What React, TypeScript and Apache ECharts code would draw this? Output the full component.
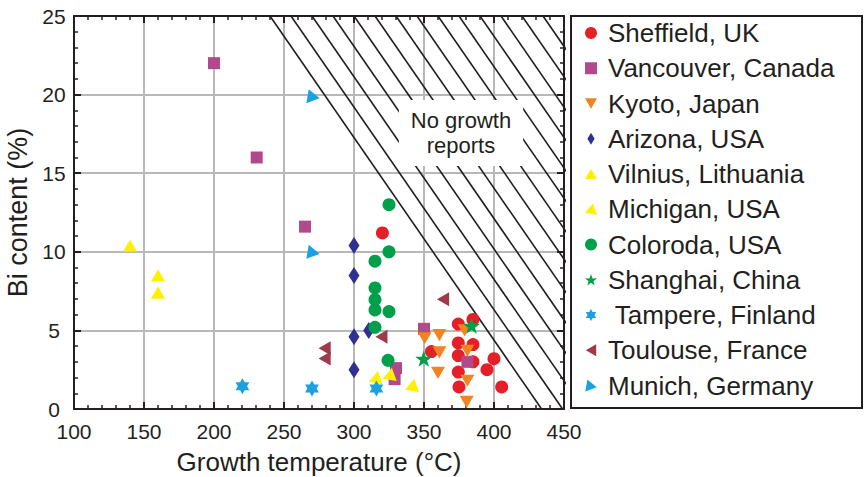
import React, { useEffect, useRef } from "react";
import * as echarts from "echarts";

const FONT = "'Liberation Sans', Arial, Helvetica, sans-serif";
const INK = "#231f20";

const xMin = 100, xMax = 450, xStep = 50;
const yMin = 0, yMax = 25, yStep = 5;

const seriesNames = [
  "Sheffield, UK", "Vancouver, Canada", "Kyoto, Japan", "Arizona, USA",
  "Vilnius, Lithuania", "Michigan, USA", "Coloroda, USA", "Shanghai, China",
  " Tampere, Finland", "Toulouse, France", "Munich, Germany",
];

const sheffield = [[320.3, 11.2], [374.5, 5.4], [385, 5.7], [374.5, 4.2], [385, 4.1], [355.3, 3.65], [374.5, 3.4], [385, 3.0], [400, 3.2], [374.5, 2.35], [395, 2.5], [375, 1.4], [405.5, 1.4]];
const vancouver = [[200, 22], [230.5, 16], [265, 11.6], [350, 5.1], [330, 2.6], [329, 1.9], [381, 3.0]];
const kyoto = [[350.5, 4.5], [361, 4.7], [361, 3.6], [360, 2.3], [379, 5.0], [381, 3.7], [381, 1.8], [380.5, 0.45]];
const arizona = [[300, 10.4], [300, 8.5], [300, 4.6], [300, 2.5], [310.5, 5.0]];
const vilnius = [[140, 10.4], [160, 8.5], [160, 7.4]];
const michigan = [[315.5, 2.0], [325.5, 2.2], [341.5, 1.5]];
const colorado = [[325, 13.0], [325, 10.0], [315, 9.4], [315, 7.7], [315, 6.95], [315, 6.3], [325, 6.2], [315, 5.2], [324.3, 3.1]];
const shanghai = [[349.8, 3.2], [384, 5.3]];
const tampere = [[220.3, 1.45], [270, 1.3], [316, 1.3]];
const toulouse = [[279, 3.86], [279, 3.22], [319.6, 4.6], [363.6, 6.98]];
const munich = [[270.7, 19.9], [270.7, 10.0]];

// hatched "no growth" region: parallel lines, top (y=25) and bottom (y=0) intercepts
const hatchTopX = [240, 255, 270, 285, 300, 315, 330, 345, 360, 375, 390, 405, 420, 435];
const hatchBottomX = [434, 449, 464, 479, 494, 509, 524, 539, 554, 569, 584, 599, 614, 629];

const STAR5 = "path://M50,0 L61.8,35.1 L97.6,34.5 L69.1,56.7 L79.4,91 L50,70 L20.6,91 L30.9,56.7 L2.4,34.5 L38.2,35.1 Z";
const STAR6 = "path://M50,0 L64.4,25 L93.3,25 L78.9,50 L93.3,75 L64.4,75 L50,100 L35.6,75 L6.7,75 L21.1,50 L6.7,25 L35.6,25 Z";

// equilateral triangle whose tip points at the given screen angle (deg, y down)
function tri(tipDeg: number): string {
  const pts = [0, 120, 240].map((d) => {
    const a = ((tipDeg + d) * Math.PI) / 180;
    return `${(50 + 50 * Math.cos(a)).toFixed(2)},${(50 + 50 * Math.sin(a)).toFixed(2)}`;
  });
  return `path://M${pts[0]} L${pts[1]} L${pts[2]} Z`;
}

const TRI_UP = tri(-90);
const TRI_DOWN = tri(90);
const TRI_LEFT = tri(180);
const TRI_MICH = tri(40);
const TRI_MUNICH = tri(10);
const DIAMOND_ICON = "path://M30,0 L60,50 L30,100 L0,50 Z";

export default function App() {
  const ref = useRef<HTMLDivElement>(null);
  useEffect(() => {
    if (!ref.current) return;
    const chart = echarts.init(ref.current, null, { renderer: "svg" });

    const scatter = (name: string, data: number[][], color: string, symbol: string, size: any, keep = true) => ({
      type: "scatter",
      name,
      data,
      symbol,
      symbolSize: size,
      symbolKeepAspect: keep,
      itemStyle: { color, opacity: 1 },
      z: 5,
    });

    const hatch = hatchTopX.map((tx, i) => ({
      type: "line",
      name: "hatch" + i,
      data: [[tx, yMax], [hatchBottomX[i], yMin]],
      showSymbol: false,
      symbol: "none",
      clip: true,
      silent: true,
      lineStyle: { color: INK, width: 1.6 },
      z: 3,
    }));

    const axisCommon = {
      type: "value",
      axisLine: { show: true, onZero: false, lineStyle: { color: INK, width: 2 } },
      axisTick: { show: true, inside: true, length: 7, lineStyle: { color: INK, width: 2 } },
      minorTick: { show: true, splitNumber: 5, length: 4, lineStyle: { color: INK, width: 1.5 } },
    };

    const icons = ["circle", "rect", TRI_DOWN, DIAMOND_ICON, TRI_UP, TRI_MICH, "circle", STAR5, STAR6, TRI_LEFT, TRI_MUNICH];

    chart.setOption({
      animation: false,
      backgroundColor: "#ffffff",
      grid: { left: 74, top: 16, width: 490, height: 393, containLabel: false, outerBoundsMode: "none" },
      xAxis: [
        {
          ...axisCommon,
          position: "bottom",
          min: xMin, max: xMax, interval: xStep,
          splitLine: { show: true, lineStyle: { color: "#b8b8b8", width: 2 } },
          axisLabel: { fontSize: 21, color: INK, fontFamily: FONT, margin: 12 },
          name: "Growth temperature (°C)",
          nameLocation: "middle",
          nameGap: 39,
          nameTextStyle: { fontSize: 26, color: INK, fontFamily: FONT, lineHeight: 28 },
        },
        {
          ...axisCommon,
          position: "top",
          min: xMin, max: xMax, interval: xStep,
          splitLine: { show: false },
          axisLabel: { show: false },
        },
      ],
      yAxis: [
        {
          ...axisCommon,
          position: "left",
          min: yMin, max: yMax, interval: yStep,
          splitLine: { show: true, lineStyle: { color: "#b8b8b8", width: 2 } },
          axisLabel: { fontSize: 21, color: INK, fontFamily: FONT, margin: 20, align: "center" },
          name: "Bi content (%)",
          nameLocation: "middle",
          nameGap: 40,
          nameTextStyle: { fontSize: 27, color: INK, fontFamily: FONT },
        },
        {
          ...axisCommon,
          position: "right",
          min: yMin, max: yMax, interval: yStep,
          splitLine: { show: false },
          axisLabel: { show: false },
        },
      ],
      legend: {
        orient: "vertical",
        left: 585,
        top: 18,
        padding: 0,
        itemWidth: 12,
        itemHeight: 12,
        itemGap: 5.25,
        selectedMode: false,
        data: seriesNames.map((n, i) => ({ name: n, icon: icons[i] })),
        textStyle: { fontSize: 26, color: INK, fontFamily: FONT, lineHeight: 30, padding: [0, 0, 0, 6] },
      },
      graphic: [
        {
          type: "rect",
          shape: { x: 571, y: 16, width: 291, height: 392 },
          style: { fill: "none", stroke: INK, lineWidth: 2 },
          z: 100,
        },
        {
          type: "text",
          x: 461,
          y: 133,
          z: 100,
          style: {
            text: "No growth\nreports",
            fontSize: 22,
            fontFamily: FONT,
            fill: INK,
            align: "center",
            verticalAlign: "middle",
            lineHeight: 25,
            backgroundColor: "#ffffff",
            padding: [8, 12, 8, 12],
          },
        },
      ],
      series: [
        ...hatch,
        scatter(seriesNames[0], sheffield, "#e41f26", "circle", 13),
        scatter(seriesNames[1], vancouver, "#b04a8c", "rect", 12),
        scatter(seriesNames[2], kyoto, "#f28322", TRI_DOWN, 14),
        scatter(seriesNames[3], arizona, "#2e3192", "diamond", [11, 17], false),
        scatter(seriesNames[4], vilnius, "#fff000", TRI_UP, 14),
        scatter(seriesNames[5], michigan, "#fff000", TRI_MICH, 14),
        scatter(seriesNames[6], colorado, "#00a04b", "circle", 13),
        scatter(seriesNames[7], shanghai, "#00a04b", STAR5, 17),
        scatter(seriesNames[8], tampere, "#1ba1e2", STAR6, 16),
        scatter(seriesNames[9], toulouse, "#9e3a4c", TRI_LEFT, 14),
        scatter(seriesNames[10], munich, "#1ba1e2", TRI_MUNICH, 14),
      ],
    });
    return () => chart.dispose();
  }, []);
  return (
    <div
      ref={ref}
      style={{ position: "fixed", left: 0, top: 0, width: 864, height: 477, background: "#fff" }}
    />
  );
}
